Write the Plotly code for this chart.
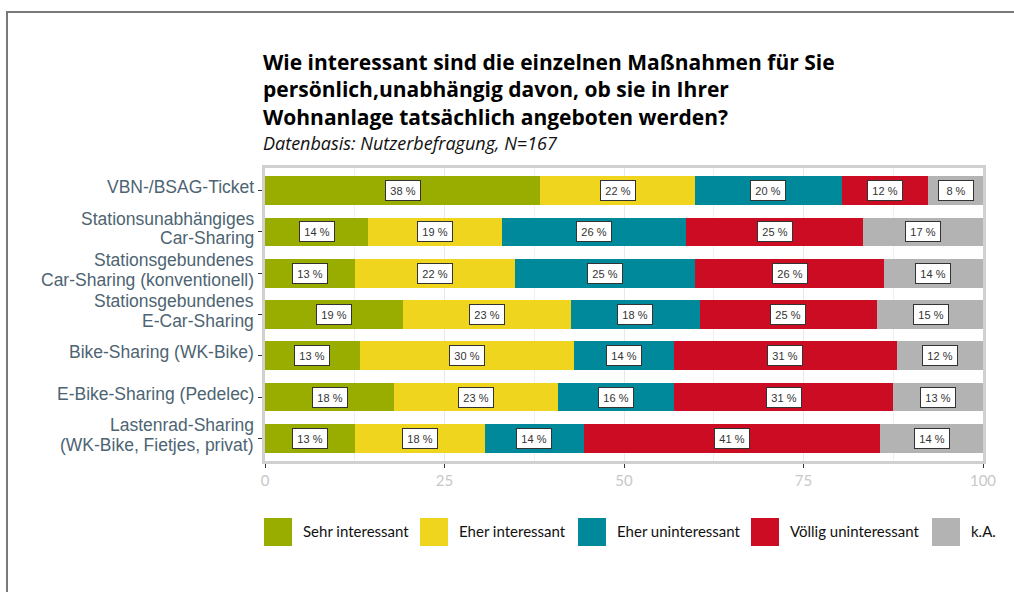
import math
import plotly.graph_objects as go

# ---------------- data ----------------
categories = [
    "VBN-/BSAG-Ticket",
    "Stationsunabhängiges<br>Car-Sharing",
    "Stationsgebundenes<br>Car-Sharing (konventionell)",
    "Stationsgebundenes<br>E-Car-Sharing",
    "Bike-Sharing (WK-Bike)",
    "E-Bike-Sharing (Pedelec)",
    "Lastenrad-Sharing<br>(WK-Bike, Fietjes, privat)",
]
series_names = ["Sehr interessant", "Eher interessant", "Eher uninteressant",
                "Völlig uninteressant", "k.A."]
sehr_interessant = [38.3, 14.4, 12.6, 19.2, 13.2, 18.0, 12.6]
eher_interessant = [21.6, 18.6, 22.2, 23.4, 29.9, 22.8, 18.0]
eher_uninteressant = [20.4, 25.7, 25.1, 18.0, 13.8, 16.2, 13.8]
voellig_uninteressant = [12.0, 24.6, 26.3, 24.6, 31.1, 30.5, 41.3]
keine_angabe = [7.8, 16.8, 13.8, 15.0, 12.0, 12.6, 14.4]
series_values = [sehr_interessant, eher_interessant, eher_uninteressant,
                 voellig_uninteressant, keine_angabe]
x_ticks = [0, 25, 50, 75, 100]

colors = ["#98ad00", "#efd51e", "#00899b", "#cc0c22", "#b3b3b3"]

title_text = ("Wie interessant sind die einzelnen Maßnahmen für Sie<br>"
              "persönlich,unabhängig davon, ob sie in Ihrer<br>"
              "Wohnanlage tatsächlich angeboten werden?")
subtitle_text = "Datenbasis: Nutzerbefragung, N=167"

# ---------------- layout geometry ----------------
W, H = 1014, 592
ML, MR, MT, MB = 265, 31, 168, 131
PW = W - ML - MR
PH = H - MT - MB


def pxx(px):
    return (px - ML) / PW


def pxy(py):
    return (H - MB - py) / PH


fig = go.Figure()

for name, vals, col in zip(series_names, series_values, colors):
    fig.add_trace(go.Bar(
        y=categories, x=vals, name=name, orientation="h",
        marker=dict(color=col, line=dict(width=0)),
        width=0.7, showlegend=False,
        hovertemplate="%{y}<br>" + name + ": %{x:.1f} %<extra></extra>",
    ))

annotations = []

# value labels in boxes
for i in range(len(categories)):
    start = 0.0
    for vals in series_values:
        v = vals[i]
        annotations.append(dict(
            x=start + v / 2, y=i, xref="x", yref="y",
            text=f"{math.floor(v + 0.5)} %", showarrow=False,
            font=dict(family="Liberation Sans", size=11, color="#333333"),
            bgcolor="white", bordercolor="#333333", borderwidth=1,
            borderpad=3, width=28, height=13,
        ))
        start += v

# category labels (one line per text, tight spacing)
LABEL_SIZE = 17.5
LINE_STEP = 19.6
for i, cat in enumerate(categories):
    lines = cat.split("<br>")
    n = len(lines)
    for j, line in enumerate(lines):
        annotations.append(dict(
            x=0, xref="paper", y=i, yref="y",
            xanchor="right", yanchor="middle", xshift=-10,
            yshift=((n - 1) / 2 - j) * LINE_STEP + 3.5,
            text=line, showarrow=False, borderpad=0,
            font=dict(family="Liberation Sans", size=LABEL_SIZE,
                      color="#4d6472"),
        ))

# title (one text block)
annotations.append(dict(
    x=0, xref="paper", y=pxy(46.5), yref="paper",
    xanchor="left", yanchor="top", align="left", xshift=-3,
    text=title_text, showarrow=False, borderpad=0,
    font=dict(family="Open Sans", size=21, color="#000000", weight="bold"),
))

# subtitle
annotations.append(dict(
    x=0, xref="paper", y=pxy(143), yref="paper",
    xanchor="left", yanchor="middle", xshift=-3,
    text=subtitle_text, showarrow=False, borderpad=0,
    font=dict(family="Open Sans", size=18, color="#111111", style="italic"),
))

# legend (swatches + labels)
legend_left_px = [264, 420, 578, 751, 932]
shapes = []
for name, col, lx in zip(series_names, colors, legend_left_px):
    shapes.append(dict(
        type="rect", xref="paper", yref="paper",
        x0=pxx(lx), x1=pxx(lx + 28), y0=pxy(546), y1=pxy(518),
        fillcolor=col, line=dict(width=0), layer="above",
    ))
    annotations.append(dict(
        x=pxx(lx + 37), xref="paper", y=pxy(531), yref="paper",
        xanchor="left", yanchor="middle", text=name, showarrow=False,
        font=dict(family="Lato", size=15, color="#111111"),
    ))

# outer frame of the picture
shapes.append(dict(
    type="rect", xref="paper", yref="paper",
    x0=pxx(7), x1=pxx(W + 20), y0=pxy(H + 20), y1=pxy(12),
    fillcolor="rgba(0,0,0,0)", line=dict(color="#7a7a7a", width=2),
    layer="above",
))

fig.update_layout(
    width=W, height=H,
    margin=dict(l=ML, r=MR, t=MT, b=MB, pad=0),
    paper_bgcolor="white", plot_bgcolor="white",
    barmode="stack", bargap=0.3,
    annotations=annotations,
    shapes=shapes,
    xaxis=dict(
        range=[0, 100], tickvals=x_ticks, ticktext=[str(t) for t in x_ticks],
        ticks="outside", ticklen=4, tickwidth=1, tickcolor="#333333",
        tickfont=dict(family="Lato", size=15, color="#c8c8c8"),
        showline=True, linecolor="#d0d0d0", linewidth=3, mirror=True,
        showgrid=True, gridcolor="#e8e8e8", gridwidth=1,
        minor=dict(dtick=12.5, tick0=0, showgrid=True, gridcolor="#efefef",
                   gridwidth=1, ticks=""),
        zeroline=False, fixedrange=True,
    ),
    yaxis=dict(
        type="category", categoryorder="array", categoryarray=categories,
        range=[len(categories) - 0.45, -0.55],
        showticklabels=False, ticks="outside", ticklen=4, tickwidth=1,
        tickcolor="#333333",
        showline=True, linecolor="#d0d0d0", linewidth=3, mirror=True,
        showgrid=False, zeroline=False, fixedrange=True,
    ),
    showlegend=False,
)

fig.write_html("out.html")
